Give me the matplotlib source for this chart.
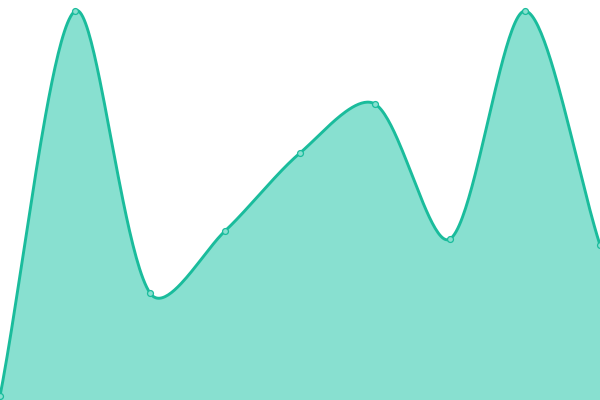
import numpy as np
import matplotlib
matplotlib.use("Agg")
import matplotlib.pyplot as plt

# x positions and values (0 = bottom edge, 400 = top)
x_vals = [0, 75, 150, 225, 300, 375, 450, 525, 600]
y_vals = [4, 389, 107, 169, 247, 296, 161, 389, 155]

line_color = '#1abc9c'
fill_color = '#88e0d0'
tension = 0.3


def spline_curve(xs, ys, t_val=0.4, steps=50):
    # control points weighted by sqrt of the distance to the neighbours
    pts = np.column_stack([xs, ys]).astype(float)
    n = len(pts)
    prev_cp, next_cp = [], []
    for i in range(n):
        prv = pts[max(i - 1, 0)]
        cur = pts[i]
        nxt = pts[min(i + 1, n - 1)]
        d01 = np.sqrt(np.linalg.norm(cur - prv))
        d12 = np.sqrt(np.linalg.norm(nxt - cur))
        tot = d01 + d12
        s01 = d01 / tot if tot else 0
        s12 = d12 / tot if tot else 0
        fa, fb = t_val * s01, t_val * s12
        prev_cp.append(cur - fa * (nxt - prv))
        next_cp.append(cur + fb * (nxt - prv))
    t = np.linspace(0, 1, steps)[:, None]
    out = []
    for i in range(n - 1):
        p1, c1, c2, p2 = pts[i], next_cp[i], prev_cp[i + 1], pts[i + 1]
        seg = ((1 - t) ** 3 * p1 + 3 * (1 - t) ** 2 * t * c1
               + 3 * (1 - t) * t ** 2 * c2 + t ** 3 * p2)
        out.append(seg)
    curve = np.vstack(out)
    return curve[:, 0], curve[:, 1]


sx, sy = spline_curve(x_vals, y_vals, tension)

fig = plt.figure(figsize=(6, 4), dpi=100)
ax = fig.add_axes([0, 0, 1, 1])
ax.fill_between(sx, sy, 0, color=fill_color, linewidth=0)
ax.plot(sx, sy, color=line_color, linewidth=2.1, solid_capstyle='round')
ax.scatter(x_vals, y_vals, s=18, facecolor=fill_color, edgecolor=line_color,
           linewidth=0.9, zorder=3, clip_on=False)
ax.set_xlim(0, 600)
ax.set_ylim(0, 400)
ax.axis('off')

plt.savefig('out.png', dpi=100)
